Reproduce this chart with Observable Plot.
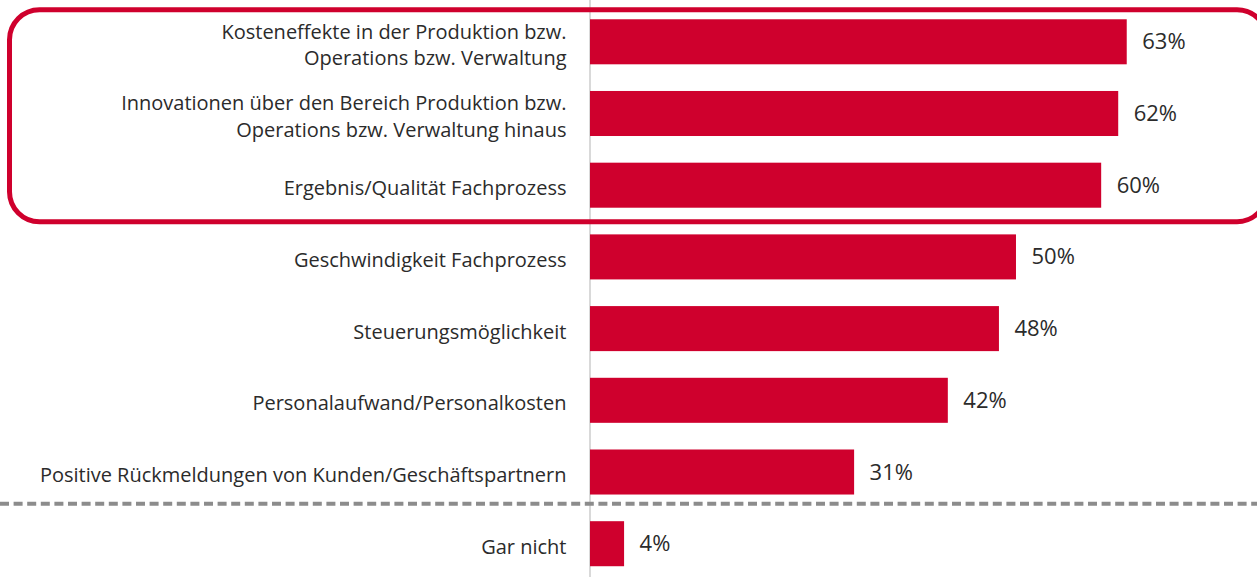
<!DOCTYPE html>
<html>
<head>
<meta charset="utf-8">
<script src="https://cdn.jsdelivr.net/npm/d3@7"></script>
<script src="https://cdn.jsdelivr.net/npm/@observablehq/plot@0.6"></script>
<style>
  html, body { margin: 0; padding: 0; background: #fff; }
  #chart svg { display: block; }
</style>
</head>
<body>
<div id="chart"></div>
<script>
const categories = [
  "Kosteneffekte in der Produktion bzw.\nOperations bzw. Verwaltung",
  "Innovationen über den Bereich Produktion bzw.\nOperations bzw. Verwaltung hinaus",
  "Ergebnis/Qualität Fachprozess",
  "Geschwindigkeit Fachprozess",
  "Steuerungsmöglichkeit",
  "Personalaufwand/Personalkosten",
  "Positive Rückmeldungen von Kunden/Geschäftspartnern",
  "Gar nicht"
];
const values = [63, 62, 60, 50, 48, 42, 31, 4];
const valueLabels = ["63%", "62%", "60%", "50%", "48%", "42%", "31%", "4%"];
const highlighted = categories.slice(0, 3);
const separatorBefore = "Gar nicht";

const data = categories.map((c, i) => ({category: c, value: values[i], label: valueLabels[i]}));

const RED = "#cf002d";
const TEXT = "#2b2b2b";
const FONT = "'Open Sans', 'Noto Sans', sans-serif";

function highlightFrame(index, scales, values, dims) {
  const y = scales.y;
  const bw = y.bandwidth();
  const top = y(highlighted[0]) - 9.5;
  const bottom = y(highlighted[highlighted.length - 1]) + bw + 14;
  const left = 9.5;
  const right = dims.width + 10;
  return d3.create("svg:rect")
    .attr("x", left).attr("y", top)
    .attr("width", right - left).attr("height", bottom - top)
    .attr("rx", 30).attr("ry", 30)
    .attr("fill", "none").attr("stroke", RED).attr("stroke-width", 5).node();
}

function separator(index, scales, values, dims) {
  const y = scales.y;
  const yy = y(separatorBefore) - (y.step() - y.bandwidth()) / 2 - 4;
  return d3.create("svg:line")
    .attr("x1", 0).attr("x2", dims.width)
    .attr("y1", yy).attr("y2", yy)
    .attr("stroke", "#8c8c8c").attr("stroke-width", 4)
    .attr("stroke-dasharray", "9,4.6").node();
}

const plot = Plot.plot({
  width: 1257,
  height: 577,
  marginLeft: 590,
  marginRight: 0,
  marginTop: 0,
  marginBottom: 0,
  style: {fontFamily: FONT, background: "#fff"},
  x: {domain: [0, 78.29], axis: null},
  y: {domain: categories, range: [-7.4, 592.9], padding: 0.372, round: false, axis: null},
  marks: [
    Plot.ruleX([0], {stroke: "#d9d9d9", strokeWidth: 2, dx: -0.5}),
    highlightFrame,
    separator,
    Plot.barX(data, {x: "value", y: "category", fill: RED}),
    Plot.text(data, {
      x: "value", y: "category", text: "label", dx: 15, textAnchor: "start",
      fontSize: 22, fill: TEXT
    }),
    Plot.text(data, {
      x: 0, y: "category", text: "category", dx: -24, dy: 1, textAnchor: "end",
      fontSize: 20, lineHeight: 1.32, fill: TEXT
    })
  ]
});

document.getElementById("chart").appendChild(plot);
</script>
</body>
</html>
